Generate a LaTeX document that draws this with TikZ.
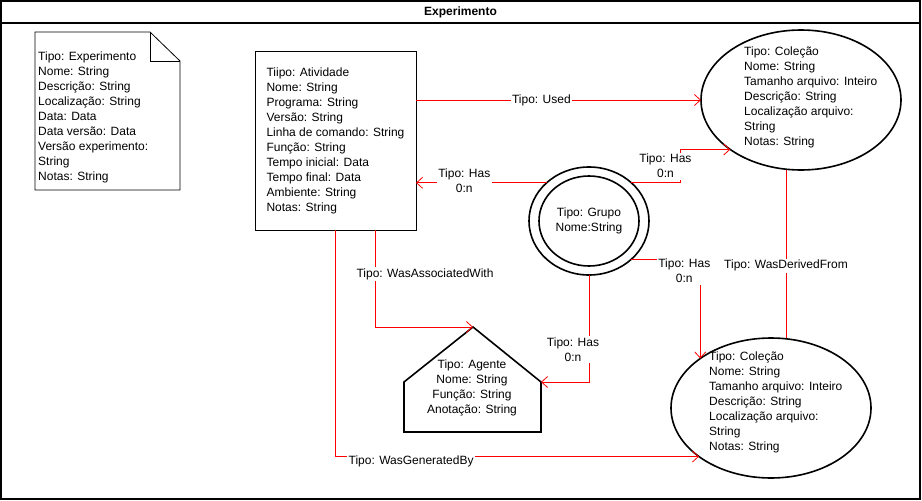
\documentclass[tikz,border=0pt]{standalone}
\usepackage{fontspec}
\setmainfont{Liberation Sans}
\usetikzlibrary{arrows.meta,shapes.geometric}

\begin{document}
\begin{tikzpicture}[x=1pt, y=-1pt,
  every node/.style={font=\fontsize{12}{15}\selectfont},
  txt/.style={align=left, inner sep=0pt},
  colecao/.style={draw, ellipse, line width=1.6pt, minimum width=200pt,
    minimum height=140pt, inner sep=0pt, outer sep=0pt},
  rel/.style={red, line width=0.8pt, -{Straight Barb[length=6pt,width=11pt]}},
  rotulo/.style={fill=white, text=black, inner sep=1.5pt, align=center}
]

  % Frame and title bar
  \useasboundingbox (0,0) rectangle (922,501);
  \draw[line width=1.2pt] (1,1) rectangle (920,499);
  \draw[line width=1.2pt] (1,23) -- (920,23);
  \node[font=\fontsize{12}{15}\selectfont\bfseries] (titulo) at (460.5,12) {Experimento};

  % Experiment document (folded corner)
  \draw[line width=0.8pt] (35,32) -- (150,32) -- (180,61) -- (180,190) -- (35,190) -- cycle;
  \draw[line width=0.8pt] (150,32) -- (150,61) -- (180,61);
  \node[txt, anchor=west] (experimento) at (38,117.5)
    {Tipo: Experimento\\Nome: String\\Descrição: String\\Localização: String\\
     Data: Data\\Data versão: Data\\Versão experimento:\\String\\Notas: String};

  % Activity
  \node[draw, line width=0.8pt, minimum width=161pt, minimum height=179pt,
    align=left, outer sep=0pt] (atividade) at (335.5,140.5)
    {Tiipo: Atividade\\Nome: String\\Programa: String\\Versão: String\\
     Linha de comando: String\\Função: String\\Tempo inicial: Data\\
     Tempo final: Data\\Ambiente: String\\Notas: String};

  % Group (double circle)
  \node[draw, ellipse, line width=1.6pt, minimum width=120pt, minimum height=108pt,
    outer sep=0pt, align=center] (grupo) at (589,221) {Tipo: Grupo\\Nome:String};
  \draw[line width=1.6pt] (grupo.center) ellipse (50pt and 45pt);

  % Collections
  \node[colecao] (colecaoA) at (801,100) {};
  \node[txt, anchor=west] (colecaoAtxt) at (744,97)
    {Tipo: Coleção\\Nome: String\\Tamanho arquivo: Inteiro\\Descrição: String\\
     Localização arquivo:\\String\\Notas: String};
  \node[colecao] (colecaoB) at (771,408) {};
  \node[txt, anchor=west] (colecaoBtxt) at (709,402.5)
    {Tipo: Coleção\\Nome: String\\Tamanho arquivo: Inteiro\\Descrição: String\\
     Localização arquivo:\\String\\Notas: String};

  % Agent (house shape)
  \coordinate (agenteTopo) at (473,327);
  \coordinate (agenteDir) at (541,382);
  \coordinate (agenteEsq) at (404,382);
  \draw[line width=1.6pt] (404,432) -- (agenteEsq) -- (agenteTopo) -- (agenteDir) -- (541,432) -- cycle;
  \node[align=center, inner sep=0pt] (agente) at (472,387.5)
    {Tipo: Agente\\Nome: String\\Função: String\\Anotação: String};

  % Relations
  \draw[rel] (atividade.east |- colecaoA.west) -- node[rotulo, pos=0.44] {Tipo: Used} (colecaoA.west);
  \draw[rel] (grupo.north west) -- node[rotulo, pos=0.63, yshift=2.5pt] {Tipo: Has\\0:n}
    (grupo.north west -| atividade.east);
  \draw[rel] (grupo.north east) -- ++(49,0)
    |- node[rotulo, pos=0.25, xshift=-15pt] {Tipo: Has\\0:n} (colecaoA.south west);
  \draw[rel] (grupo.south east) -| node[rotulo, pos=0.5, xshift=-16pt, yshift=-12pt] {Tipo: Has\\0:n}
    (colecaoB.north west);
  \draw[rel] (grupo.south) |- node[rotulo, pos=0.35, xshift=-16pt] {Tipo: Has\\0:n} (agenteDir);
  \draw[rel] ([xshift=39.5pt]atividade.south) |- node[rotulo, pos=0.227, xshift=50pt] {Tipo: WasAssociatedWith}
    (agenteTopo);
  \draw[rel] (atividade.south) |- node[rotulo, pos=0.604, yshift=-5pt] {Tipo: WasGeneratedBy}
    (colecaoB.214.6);
  \draw[red, line width=0.8pt] ([xshift=15pt]colecaoB.north)
    -- node[rotulo, pos=0.43] {Tipo: WasDerivedFrom} ([xshift=15pt]colecaoB.north |- colecaoA.south);

\end{tikzpicture}
\end{document}
